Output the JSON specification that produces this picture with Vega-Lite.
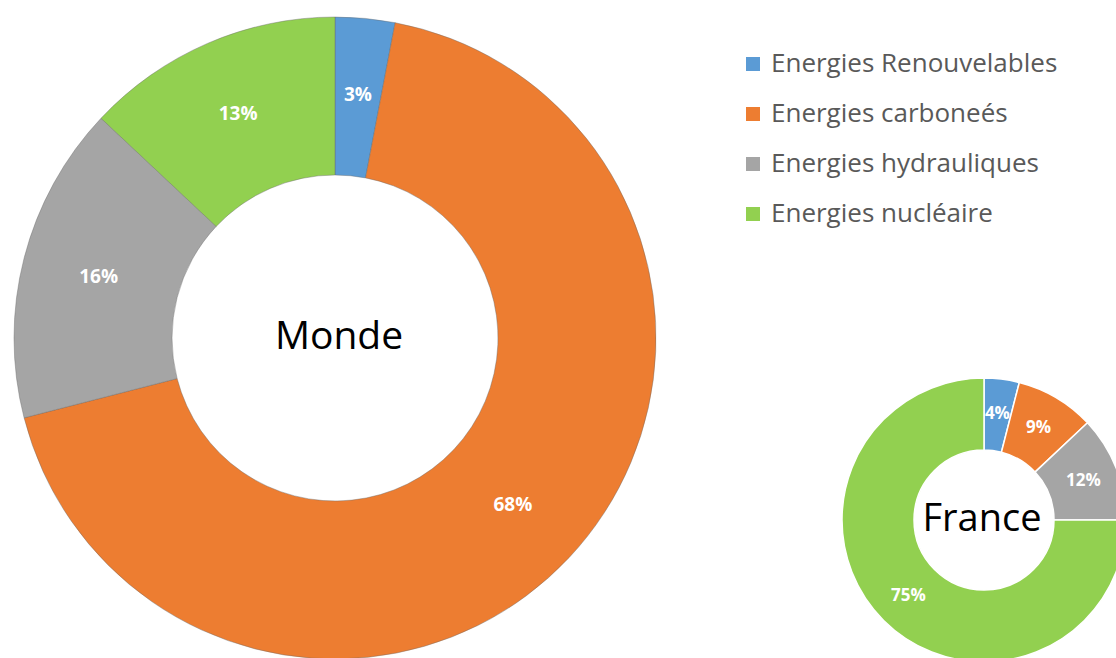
{
  "$schema": "https://vega.github.io/schema/vega-lite/v6.json",
  "padding": {"left": 0, "top": 15, "right": 0, "bottom": 0},
  "background": "white",
  "bounds": "flush",
  "datasets": {
    "energie": [
      {"zone": "Monde", "source": "Energies Renouvelables", "part": 0.03, "ordre": 1},
      {"zone": "Monde", "source": "Energies carboneés", "part": 0.68, "ordre": 2},
      {"zone": "Monde", "source": "Energies hydrauliques", "part": 0.16, "ordre": 3},
      {"zone": "Monde", "source": "Energies nucléaire", "part": 0.13, "ordre": 4},
      {"zone": "France", "source": "Energies Renouvelables", "part": 0.04, "ordre": 1},
      {"zone": "France", "source": "Energies carboneés", "part": 0.09, "ordre": 2},
      {"zone": "France", "source": "Energies hydrauliques", "part": 0.12, "ordre": 3},
      {"zone": "France", "source": "Energies nucléaire", "part": 0.75, "ordre": 4}
    ],
    "zones": [{"zone": "Monde"}, {"zone": "France"}, {"zone": ""}]
  },
  "spacing": 214,
  "hconcat": [
    {
      "width": 670,
      "height": 642,
      "layer": [
        {
          "data": {"name": "energie"},
          "transform": [{"filter": "datum.zone == 'Monde'"}],
          "mark": {"type": "arc", "outerRadius": 321, "innerRadius": 163, "stroke": "#6b6b6b", "strokeWidth": 0.6, "strokeOpacity": 0.7},
          "encoding": {
            "theta": {"field": "part", "type": "quantitative", "stack": true},
            "order": {"field": "ordre", "type": "quantitative", "sort": "ascending"},
            "color": {"field": "source", "type": "nominal", "scale": {"domain": ["Energies Renouvelables", "Energies carboneés", "Energies hydrauliques", "Energies nucléaire"]}}
          }
        },
        {
          "data": {"name": "energie"},
          "transform": [{"filter": "datum.zone == 'Monde'"}],
          "mark": {"type": "text", "radius": 244, "font": "Open Sans", "fontWeight": "bold", "fontSize": 19, "fill": "white"},
          "encoding": {
            "theta": {"field": "part", "type": "quantitative", "stack": true},
            "order": {"field": "ordre", "type": "quantitative", "sort": "ascending"},
            "text": {"field": "part", "type": "quantitative", "format": ".0%"},
            "detail": {"field": "source"}
          }
        },
        {
          "data": {"name": "zones"},
          "transform": [{"filter": "datum.zone == 'Monde'"}],
          "mark": {"type": "text", "font": "Open Sans", "fontSize": 39, "fill": "black", "dx": 4, "dy": -1},
          "encoding": {"text": {"field": "zone", "type": "nominal"}}
        }
      ]
    },
    {
      "spacing": 0,
      "bounds": "flush",
      "vconcat": [
        {
          "width": 200,
          "height": 403,
          "data": {"name": "zones"},
          "transform": [{"filter": "datum.zone == ''"}],
          "mark": {"type": "text"},
          "encoding": {"text": {"field": "zone", "type": "nominal"}}
        },
        {
          "width": 200,
          "height": 200,
          "layer": [
            {
              "data": {"name": "energie"},
              "transform": [{"filter": "datum.zone == 'France'"}],
              "mark": {"type": "arc", "outerRadius": 142, "innerRadius": 70, "stroke": "white", "strokeWidth": 1.5},
              "encoding": {
                "theta": {"field": "part", "type": "quantitative", "stack": true},
                "order": {"field": "ordre", "type": "quantitative", "sort": "ascending"},
                "color": {"field": "source", "type": "nominal"}
              }
            },
            {
              "data": {"name": "energie"},
              "transform": [{"filter": "datum.zone == 'France'"}],
              "mark": {"type": "text", "radius": 107, "font": "Open Sans", "fontWeight": "bold", "fontSize": 17, "fill": "white"},
              "encoding": {
                "theta": {"field": "part", "type": "quantitative", "stack": true},
                "order": {"field": "ordre", "type": "quantitative", "sort": "ascending"},
                "text": {"field": "part", "type": "quantitative", "format": ".0%"},
                "detail": {"field": "source"}
              }
            },
            {
              "data": {"name": "zones"},
              "transform": [{"filter": "datum.zone == 'France'"}],
              "mark": {"type": "text", "font": "Open Sans", "fontSize": 38, "fill": "black", "dx": -2},
              "encoding": {"text": {"field": "zone", "type": "nominal"}}
            }
          ]
        }
      ]
    }
  ],
  "resolve": {"scale": {"color": "shared"}},
  "config": {
    "view": {"stroke": null},
    "range": {"category": ["#5B9BD5", "#ED7D31", "#A5A5A5", "#92D050"]},
    "legend": {
      "orient": "none",
      "legendX": 740,
      "legendY": 34,
      "title": null,
      "symbolType": "square",
      "symbolSize": 196,
      "symbolStrokeWidth": 0,
      "labelFont": "Open Sans",
      "labelFontSize": 26,
      "labelColor": "#595959",
      "labelOffset": 5,
      "rowPadding": 24,
      "labelLimit": 400
    }
  }
}
